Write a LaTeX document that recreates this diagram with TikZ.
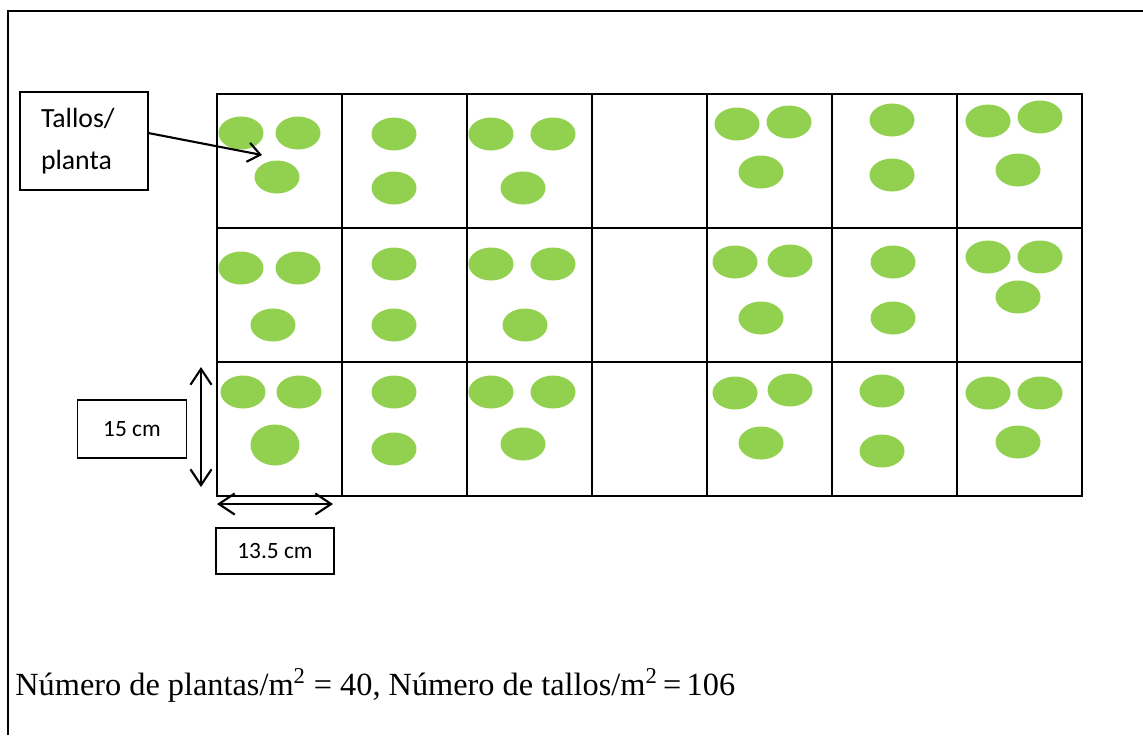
\documentclass[tikz,border=0pt]{standalone}
\usepackage{fontspec}
\setmainfont{Liberation Serif}
\newfontfamily\boxfont{Carlito}
\usetikzlibrary{arrows.meta}
\definecolor{plantgreen}{HTML}{92D050}
\tikzset{
	plant/.style={fill=plantgreen},
	gridline/.style={line width=1.1pt},
	labelbox/.style={draw, line width=0.9pt, inner sep=0pt, font=\boxfont\fontsize{13.3}{16}\selectfont},
	dimarrow/.style={line width=1.2pt, {Straight Barb[length=9pt,width=12pt]}-{Straight Barb[length=9pt,width=12pt]}}
}

\begin{document}
\begin{tikzpicture}[x=0.02cm, y=-0.02cm]
		\useasboundingbox (0,0) rectangle (1143,735);
		\draw [line width=1.1pt] (8,735) -- (8,11) -- (1143,11);
		% plot grid
		\draw [gridline] (217,94) rectangle (1082,496);
		\draw [gridline] (217,228) -- (1082,228);
		\draw [gridline] (217,362) -- (1082,362);
		\foreach \x in {342,467,592,707,832,957}
			\draw [gridline] (\x,94) -- (\x,496);
		% plants
		\foreach \x/\y in {241/133, 298/133, 277/177, 394/134, 394/188, 491/134, 553/134, 523/188,
				737/124, 789/122, 761/172, 892/120, 892/175, 988/121, 1040/117, 1018/170,
				241/268, 298/268, 273/325, 394/264, 394/325, 491/264, 553/264, 525/325,
				735/262, 790/261, 761/318, 893/262, 893/318, 988/257, 1040/257, 1018/297,
				243/392, 299/392, 394/392, 394/449, 491/392, 553/392, 523/444,
				735/393, 790/390, 761/443, 882/391, 882/451, 988/393, 1040/393, 1018/442}
			\fill [plant] (\x,\y) ellipse [x radius=0.45cm, y radius=0.33cm];
		\fill [plant] (275,445) ellipse [x radius=0.49cm, y radius=0.41cm];
		% labels
		\node [labelbox, line width=0.7pt, minimum width=2.56cm, minimum height=1.96cm, text width=1.72cm, align=left,
			font=\boxfont\fontsize{15.8}{23.5}\selectfont] (tallos) at (84,141) {Tallos/\\planta};
		\coordinate (stem) at (262,155);
		\draw [line width=1.2pt, -{Straight Barb[length=7pt,width=11pt]}] (tallos.7) -- (stem);
		\node [labelbox, minimum width=2.18cm, minimum height=1.16cm] (alto) at (132,429) {15 cm\hspace{0.16cm}};
		\node [labelbox, minimum width=2.36cm, minimum height=0.92cm] (ancho) at (275,551) {13.5 cm};
		\coordinate (vtop) at (201,367);
		\coordinate (vbot) at (201,487);
		\coordinate (hleft) at (217,504);
		\coordinate (hright) at (333,504);
		\draw [dimarrow] (vtop) -- (vbot);
		\draw [dimarrow] (hleft) -- (hright);
		\node [anchor=base west, inner sep=0pt, font=\fontsize{18.4}{22}\selectfont] (resumen) at (15,695)
			{Número de plantas/m\textsuperscript{2} = 40, Número de tallos/m\textsuperscript{2}\,=\,106};
	\end{tikzpicture}
\end{document}
